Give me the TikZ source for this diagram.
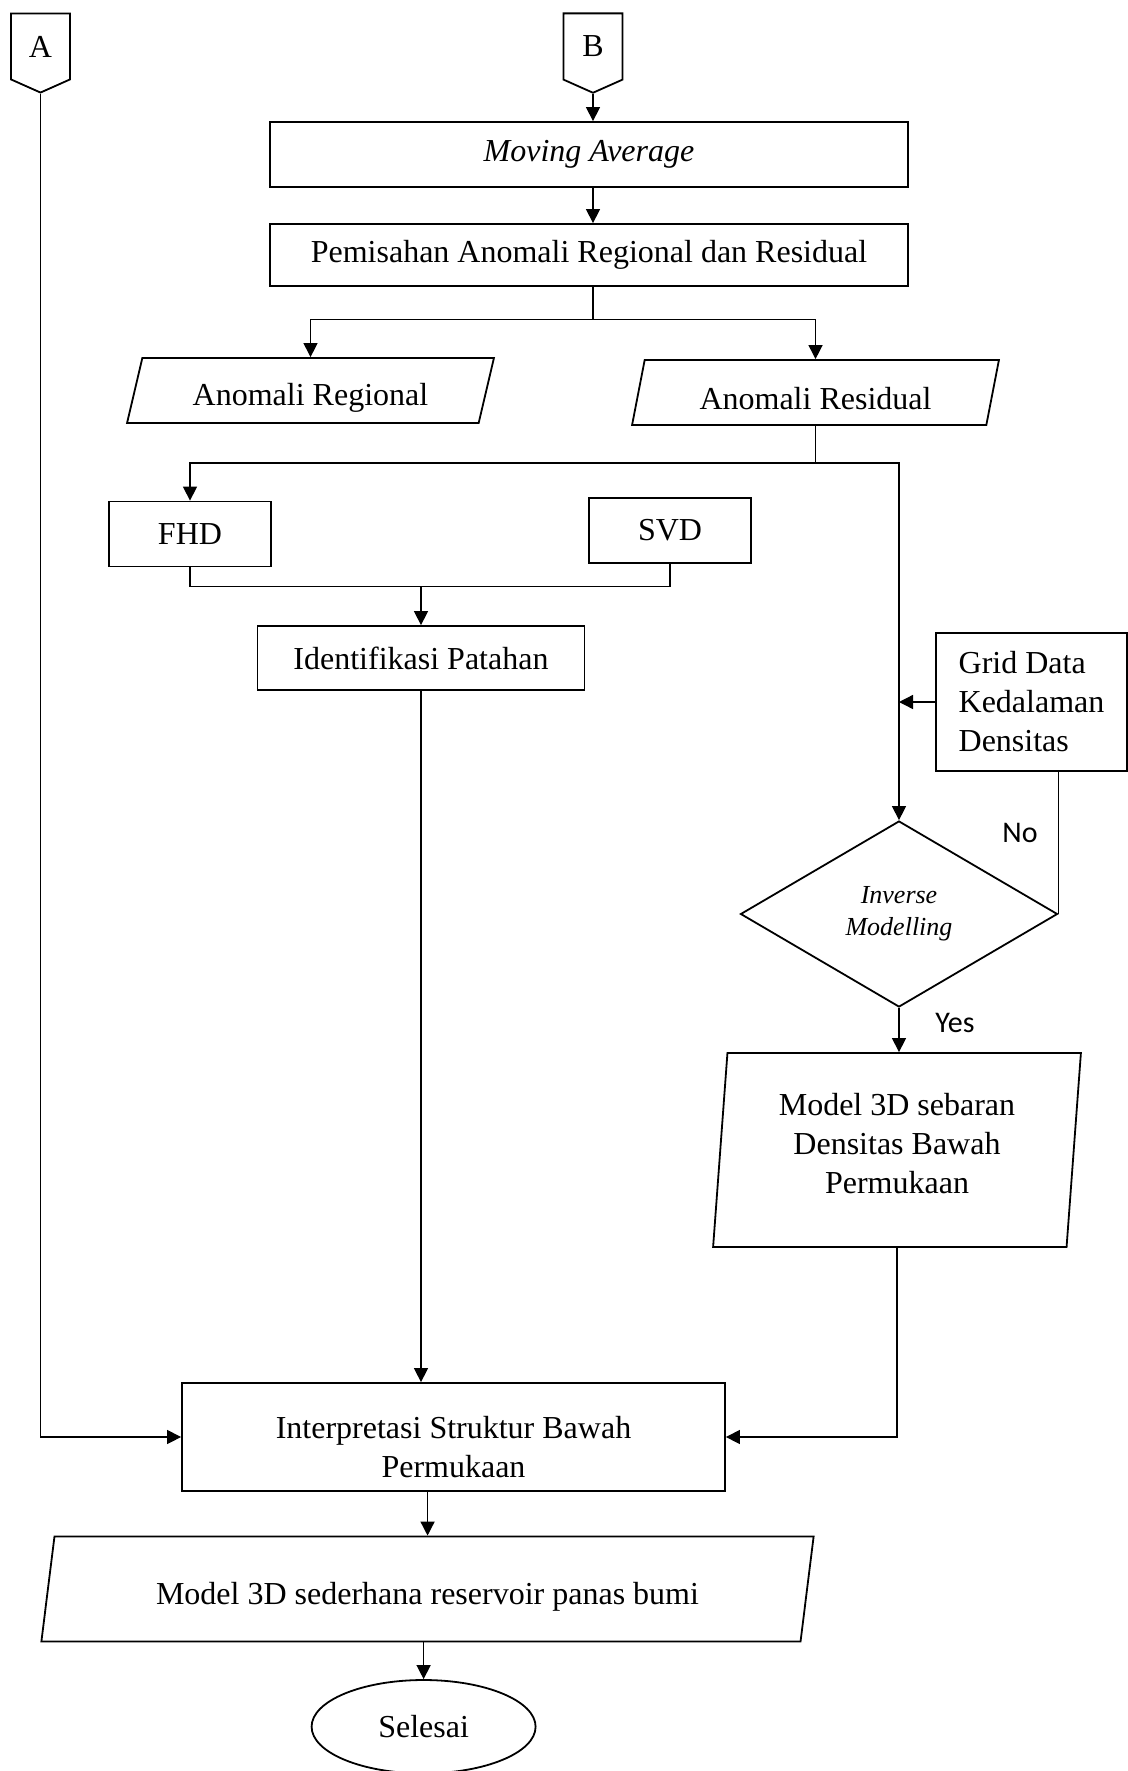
\documentclass[tikz,border=0pt]{standalone}
\usepackage{fontspec}
\setmainfont{Liberation Serif}
\newfontfamily\labelfont{Carlito}
\usetikzlibrary{shapes.geometric,shapes.symbols,arrows.meta}

\begin{document}
\begin{tikzpicture}[x=0.5pt,y=-0.5pt,>={Triangle[length=7pt,width=7pt]},
  font=\fontsize{16}{19.5}\selectfont,line width=0.7pt]
\tikzset{
  box/.style={draw,rectangle,line width=0.9pt,align=center,inner sep=0pt},
  io/.style={draw,trapezium,trapezium stretches=true,line width=0.9pt,align=center,inner sep=0pt},
  conn/.style={draw,signal,signal to=south,signal from=nowhere,signal pointer angle=132,
    line width=0.9pt,inner sep=0pt,minimum width=29.5pt,minimum height=35.5pt},
  yn/.style={font=\labelfont\fontsize{15}{18}\selectfont}
}
\useasboundingbox (0,0) rectangle (1128,1771);

% off-page connectors
\node[conn] (A) at (40.5,46.5) {A};
\node[conn] (B) at (593,46.5) {B};

% main column
\node[box,minimum width=319pt,minimum height=32.5pt] (ma) at (589,154.5) {\textit{Moving Average}};
\node[box,minimum width=319pt,minimum height=31pt] (pem) at (589,255) {Pemisahan Anomali Regional dan Residual};
\node[io,trapezium left angle=76,trapezium right angle=104,minimum width=183.5pt,minimum height=32.5pt,
  text height=18pt] (reg) at (310.5,390.5) {Anomali Regional};
\node[io,trapezium left angle=76,trapezium right angle=104,minimum width=183.5pt,minimum height=32.5pt,
  text height=17pt] (res) at (815.5,392.5) {Anomali Residual};
\node[box,minimum width=81pt,minimum height=32.5pt] (fhd) at (190,534) {FHD};
\node[box,minimum width=81pt,minimum height=32.5pt] (svd) at (670,530.5) {SVD};
\node[box,minimum width=163.5pt,minimum height=32pt] (pat) at (421,658) {Identifikasi Patahan};
\node[box,minimum width=95.5pt,minimum height=69pt,align=left] (grid) at (1031.5,702) {Grid Data\\Kedalaman\\Densitas};
\node[draw,diamond,line width=0.9pt,minimum width=158.5pt,minimum height=93pt,inner sep=0pt,align=center,
  font=\fontsize{13}{16}\selectfont\itshape] (inv) at (899,914) {Inverse\\Modelling};
\node[io,trapezium left angle=85,trapezium right angle=95,minimum width=184pt,minimum height=97pt,
  text depth=7pt] (sbr) at (897,1150) {Model 3D sebaran\\Densitas Bawah\\Permukaan};
\node[box,minimum width=271.5pt,minimum height=54pt,text height=41pt] (itp) at (453.5,1437) {Interpretasi Struktur Bawah\\Permukaan};
\node[io,trapezium left angle=78,trapezium right angle=102,minimum width=386.5pt,minimum height=52.5pt,
  text height=19pt] (sdr) at (427.5,1589) {Model 3D sederhana reservoir panas bumi};
\node[draw,ellipse,line width=0.9pt,minimum width=112pt,minimum height=46.7pt,inner sep=0pt] (end) at (423.6,1726.7) {Selesai};

\node[yn] (no) at (1020,833) {No};
\node[yn] (yes) at (955,1023) {Yes};

% connectors
\coordinate (split) at (593,319.5);
\path (res.south) ++(0,37) coordinate (fork);
\path (pat.north) ++(0,-38.4) coordinate (join);

\draw[->] (B.south) -- (B.south |- ma.north);
\draw[->] (ma.south -| B.south) -- (pem.north -| B.south);
\draw (pem.south -| B.south) -- (split);
\draw[->] (split) -| (reg.north);
\draw[->] (split) -| (res.north);
\draw (res.south) -- (fork);
\draw[->] (fork) -| (fhd.north);
\draw[->] (fork) -| (inv.north);
\draw (fhd.south) |- (join);
\draw (svd.south) |- (join);
\draw[->] (join) -- (pat.north);
\draw[->] (grid.west) -- (grid.west -| inv.north);
\draw (grid.south -| inv.east) -- (inv.east);
\draw[->] (inv.south) -- (inv.south |- sbr.north);
\draw[->] (pat.south) -- (pat.south |- itp.north);
\draw[->] (A.south) |- (itp.west);
\draw[->] (sbr.south) |- (itp.east);
\draw[->] (sdr.north |- itp.south) -- (sdr.north);
\draw[->] (end.north |- sdr.south) -- (end.north);
\end{tikzpicture}
\end{document}
